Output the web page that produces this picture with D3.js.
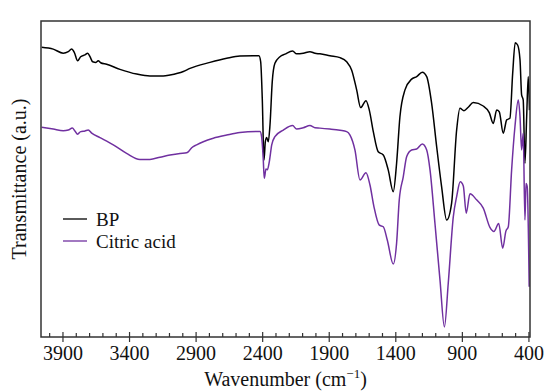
<!DOCTYPE html>
<html><head><meta charset="utf-8">
<script src="https://cdn.jsdelivr.net/npm/d3@7"></script>
<style>body{margin:0;background:#fff}</style>
</head><body><svg id="c" width="547" height="391"></svg>
<script>
const bpWn=[4060,3973,3898,3860,3835,3815,3790,3767,3735,3714,3697,3677,3652,3635,3617,3572,3472,3346,3247,3147,3096,2996,2946,2796,2670,2571,2471,2428,2415,2403,2390,2380,2370,2358,2345,2328,2308,2270,2233,2175,2145,2095,2045,2007,1970,1895,1819,1769,1732,1694,1664,1624,1599,1569,1532,1494,1457,1419,1394,1369,1331,1281,1243,1201,1168,1131,1093,1056,1018,981,943,918,888,856,818,743,698,668,642,623,593,567,543,522,503,485,467,455,443,430,417,405,396];
const bpT=[91.7,91.1,89.8,90.3,91.1,90.1,87.4,88.7,89.3,89.8,88.7,87.1,86.9,87.4,86.8,86.3,84.7,83.2,82.6,82.6,82.9,84.0,85.0,86.9,88.2,88.9,89.0,89.0,87.1,75.5,56.0,61.8,63.1,61.8,67.1,80.8,86.6,88.7,89.5,90.5,89.6,89.8,90.3,89.8,89.6,89.0,88.4,87.1,84.5,78.2,72.6,74.8,71.8,65.0,58.6,57.6,52.9,46.0,55.0,69.7,78.2,81.6,82.4,83.8,82.4,74.0,60.2,47.6,37.0,42.3,65.5,72.4,71.6,72.7,74.2,73.1,71.0,67.6,71.8,71.3,64.5,68.7,69.2,83.5,93.1,92.4,87.7,76.6,75.0,55.0,69.7,82.4,71.8];
const caWn=[4060,3973,3898,3860,3830,3810,3790,3767,3735,3710,3684,3622,3522,3422,3322,3247,3171,3096,3021,2971,2959,2933,2896,2846,2771,2670,2571,2445,2420,2408,2396,2388,2375,2365,2350,2332,2308,2245,2175,2145,2095,2045,2007,1970,1895,1819,1769,1744,1707,1669,1624,1594,1564,1524,1494,1464,1419,1394,1374,1344,1318,1281,1243,1201,1168,1143,1106,1068,1035,1006,968,943,916,893,871,843,793,743,693,663,627,597,573,555,530,505,480,467,455,443,430,422,413,398];
const caT=[66.4,65.8,65.3,65.5,66.1,65.2,64.2,65.0,65.2,65.5,64.5,63.1,60.8,58.1,56.2,56.2,56.9,57.6,58.1,58.3,58.6,59.9,60.8,61.8,62.9,63.9,64.7,65.0,65.0,63.4,56.6,50.2,53.2,52.9,55.5,60.8,63.4,65.5,66.9,65.8,66.2,66.9,66.2,66.1,65.8,65.4,65.0,63.9,59.2,49.7,52.0,48.1,41.2,35.4,34.9,30.7,23.1,29.7,43.4,50.7,57.1,59.2,59.5,61.1,59.2,52.9,36.0,18.0,3.2,17.0,38.1,44.4,49.1,47.8,39.2,45.3,43.4,40.8,34.7,33.4,35.9,28.1,33.5,34.9,52.9,66.6,75.0,69.7,59.2,64.5,37.0,48.6,47.6,15.9];
const xTicks=[3900,3400,2900,2400,1900,1400,900,400];
const seriesNames=["BP","Citric acid"];
const colors=["#000000","#7030A0"];

const svg=d3.select("#c");
const L=41,R=530,T=21,B=337;
const x=d3.scaleLinear().domain([4065,392]).range([L,R]);
const y=d3.scaleLinear().domain([0,100]).range([B,T]);
const font="'Liberation Serif','Times New Roman',serif";
const fs=20;

const line=d3.line().x(d=>x(d[0])).y(d=>y(d[1])).curve(d3.curveMonotoneX);
const series=[d3.zip(bpWn,bpT),d3.zip(caWn,caT)];
svg.append("clipPath").attr("id","cp").append("rect").attr("x",L).attr("y",T).attr("width",R-L).attr("height",B-T);
series.forEach((s,i)=>{
  svg.append("path").datum(s).attr("d",line).attr("fill","none").attr("stroke",colors[i]).attr("stroke-width",1.5).attr("clip-path","url(#cp)");
});

// frame
svg.append("rect").attr("x",L).attr("y",T).attr("width",R-L).attr("height",B-T).attr("fill","none").attr("stroke","#333").attr("stroke-width",1.5);

// ticks
const minor=d3.range(4000,391,-100).filter(d=>!xTicks.includes(d));
svg.append("g").selectAll("line").data(minor).join("line")
  .attr("x1",d=>x(d)).attr("x2",d=>x(d)).attr("y1",B).attr("y2",B-4)
  .attr("stroke","#333").attr("stroke-width",1.2);
svg.append("g").selectAll("line").data(xTicks).join("line")
  .attr("x1",d=>x(d)).attr("x2",d=>x(d)).attr("y1",B-5).attr("y2",B+5)
  .attr("stroke","#333").attr("stroke-width",1.2);
svg.append("g").selectAll("text").data(xTicks).join("text")
  .attr("x",d=>x(d)).attr("y",360).attr("text-anchor","middle")
  .attr("font-family",font).attr("font-size",fs).attr("fill","#111").text(d=>d);

// axis titles
const xt=svg.append("text").attr("x",(L+R)/2).attr("y",386).attr("text-anchor","middle")
  .attr("font-family",font).attr("font-size",fs).attr("fill","#111");
xt.append("tspan").text("Wavenumber (cm");
xt.append("tspan").text("\u22121").attr("font-size",13).attr("dy",-8);
xt.append("tspan").text(")").attr("dy",8);
svg.append("text").attr("transform",`translate(26,${(T+B)/2}) rotate(-90)`).attr("text-anchor","middle")
  .attr("font-family",font).attr("font-size",fs).attr("fill","#111").text("Transmittance (a.u.)");

// legend
seriesNames.forEach((n,i)=>{
  const yy=219+i*22;
  svg.append("line").attr("x1",63).attr("x2",87).attr("y1",yy).attr("y2",yy).attr("stroke",colors[i]).attr("stroke-width",1.3);
  svg.append("text").attr("x",96).attr("y",yy+7).attr("font-family",font).attr("font-size",19).attr("fill","#111").text(n);
});
</script></body></html>
